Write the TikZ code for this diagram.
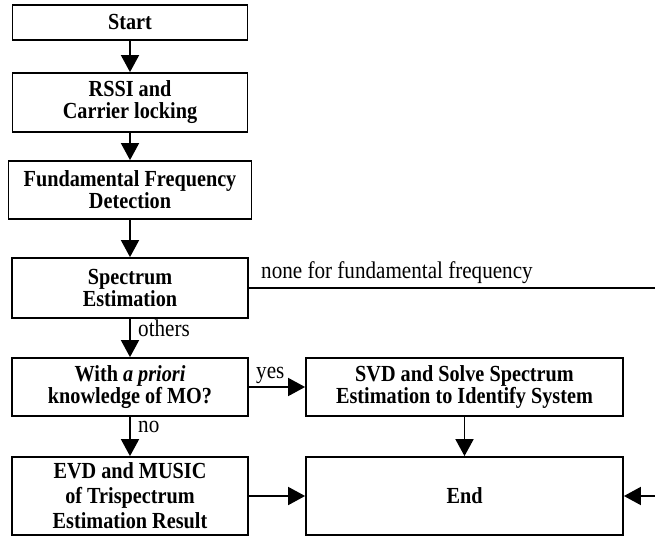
\documentclass[tikz,border=0pt]{standalone}
\usepackage{fontspec}
\setmainfont[FakeStretch=0.88]{Liberation Serif}
\usetikzlibrary{arrows.meta}
\begin{document}
\begin{tikzpicture}[x=1pt,y=1pt,
  box/.style={draw, line width=1.8pt, align=center, inner sep=0pt,
    font=\fontsize{23}{22}\selectfont\bfseries},
  arr/.style={line width=1.8pt, -{Triangle[length=17pt,width=18pt]}},
  lbl/.style={font=\fontsize{24}{26}\selectfont, inner sep=0pt}]
\useasboundingbox (0,0) rectangle (655,536);
\node[box, minimum width=235, minimum height=35] (start) at (130,513.5) {Start};
\node[box, minimum width=235, minimum height=59] (rssi) at (130,433.5) {RSSI and\\Carrier locking};
\node[box, minimum width=243, minimum height=58] (fund) at (130,346) {Fundamental Frequency\\Detection};
\node[box, minimum width=236, minimum height=60] (spec) at (130,248) {Spectrum\\Estimation};
\node[box, minimum width=236, minimum height=58] (prior) at (130,149) {With \textit{a priori}\\knowledge of MO?};
\node[box, minimum width=236, minimum height=78, font=\fontsize{23}{25}\selectfont\bfseries] (evd) at (130,40) {EVD and MUSIC\\of Trispectrum\\Estimation Result};
\node[box, minimum width=317, minimum height=58] (svd) at (464.5,149) {SVD and Solve Spectrum\\Estimation to Identify System};
\node[box, minimum width=317, minimum height=78] (end) at (464.5,40) {End};
\coordinate (rightA) at (655,248);
\coordinate (rightB) at (655,40);
\draw[arr] (start) -- (rssi);
\draw[arr] (rssi) -- (fund);
\draw[arr] (fund) -- (spec);
\draw[arr] (spec) -- (prior);
\draw[arr] (prior) -- (evd);
\draw[arr] (prior) -- (svd);
\draw[arr] (svd) -- (end);
\draw[arr] (evd) -- (end);
\draw[line width=1.8pt] (spec.east) -- (rightA);
\draw[arr] (rightB) -- (end.east);
\node[lbl, anchor=base west] (lnone) at (261,258) {none for fundamental frequency};
\node[lbl, anchor=base west] (lothers) at (138,200) {others};
\node[lbl, anchor=base west] (lno) at (138,104) {no};
\node[lbl, anchor=base west] (lyes) at (256,158) {yes};
\end{tikzpicture}
\end{document}
